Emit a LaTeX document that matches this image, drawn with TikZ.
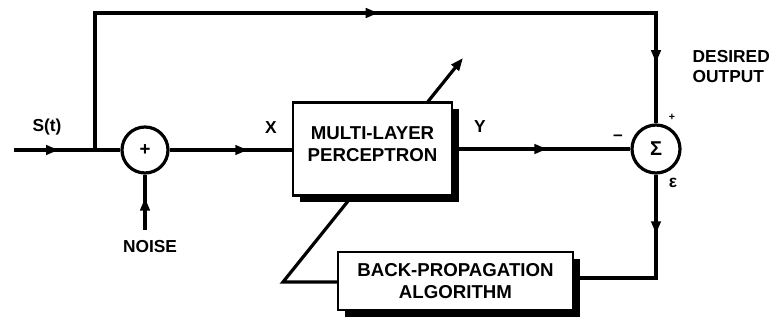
\documentclass[tikz,border=0pt]{standalone}
\usepackage{fontspec}
\setmainfont{Liberation Sans}
\usetikzlibrary{arrows.meta, positioning, shadows, decorations.markings}

\tikzset{
  flow/.style={line width=2.4pt},
  tri/.tip={Triangle[length=9.5pt,width=7pt]},
  midarrow/.style={flow, postaction={decorate},
    decoration={markings, mark=at position #1 with {\arrow{tri}}}},
  midarrow/.default=0.5,
  block/.style={draw, line width=1.8pt, fill=white, align=center,
    font=\bfseries\fontsize{14}{17}\selectfont,
    general shadow={fill=black, shadow xshift=5pt, shadow yshift=-5pt}},
  junction/.style={circle, draw, line width=2.4pt, fill=white, inner sep=0pt},
  lbl/.style={font=\bfseries\fontsize{13}{15}\selectfont}
}

\begin{document}
\begin{tikzpicture}[x=0.75pt, y=-0.75pt]
    \useasboundingbox (0,0) rectangle (777,320);

    % Summing junctions
    \node[junction, minimum size=34.5pt, font=\bfseries\fontsize{14}{14}\selectfont] (plus) at (145,150) {+};
    \node[junction, minimum size=36pt, font=\bfseries\fontsize{15}{15}\selectfont] (sigma) at (656,149) {Σ};

    % Learning algorithm block
    \node[block, minimum width=176pt, minimum height=43.5pt] (bp) at (455.5,281) {BACK-PROPAGATION\\ALGORITHM};

    % Weight update path (runs behind the network block)
    \coordinate (tail) at (283,282);
    \coordinate (head) at (463,58);
    \draw[flow, -tri] (bp.west |- tail) -- (tail) -- (head);

    % Network block
    \node[block, minimum width=119pt, minimum height=70pt] (mlp) at (372.5,149) {MULTI-LAYER\\PERCEPTRON\\[-9.5pt]};

    % Signal paths
    \coordinate (in) at (14,150);
    \coordinate (branch) at (95,150);
    \coordinate (topL) at (95,13);
    \coordinate (topR) at (656,13);
    \coordinate (noise) at (145,230);
    \coordinate (corner) at (656,278);

    \draw[midarrow=0.42] (in) -- (plus.west);
    \draw[midarrow=0.64] (plus.east) -- (plus.east -| mlp.west);
    \draw[midarrow=0.58] (noise) -- (plus.south);
    \draw[flow, postaction={decorate}, decoration={markings,
        mark=at position 0.52 with {\arrow{tri}},
        mark=at position 0.925 with {\arrow{tri}}}]
        (branch) -- (topL) -- (topR) -- (sigma.north);
    \draw[midarrow=0.53] (mlp.east) -- (sigma.west);
    \draw[midarrow=0.32] (sigma.south) -- (corner) -- (bp.east |- corner);

    % Labels
    \node[lbl] (st) at (47,127) {S(t)};
    \node[lbl] (xlbl) at (271,128) {X};
    \node[lbl] (ylbl) at (480,127) {Y};
    \node[lbl] (noiselbl) at (150,247) {NOISE};
    \node[lbl, align=left, anchor=west] (desired) at (688,67) {DESIRED\\OUTPUT};
    \node[lbl, font=\bfseries\footnotesize] (plussign) at (672,117) {+};
    \node[lbl] (minussign) at (618,138) {–};
    \node[lbl] (eps) at (673,183) {ε};
\end{tikzpicture}
\end{document}
